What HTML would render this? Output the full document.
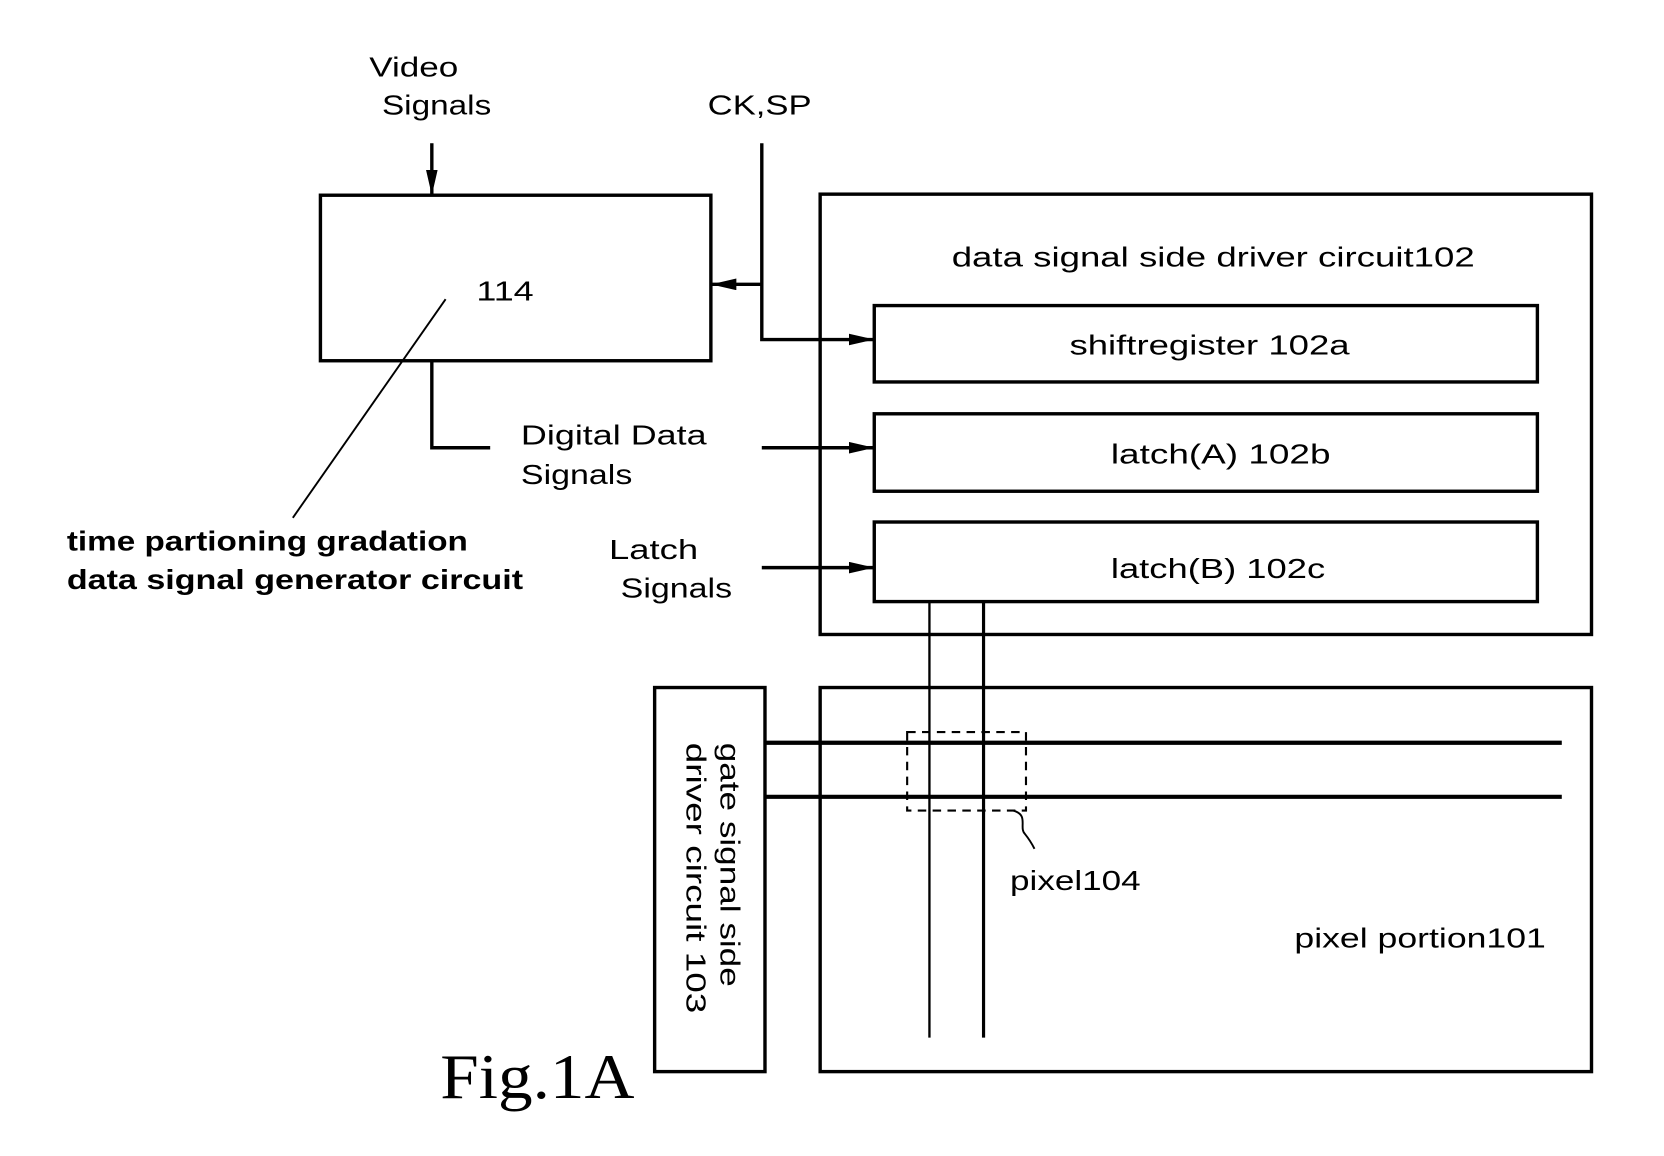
<!DOCTYPE html>
<html><head><style>
html,body{margin:0;padding:0;background:#fff;}
svg{display:block;}
text{font-family:"Liberation Sans",sans-serif;fill:#000;}
</style></head><body>
<svg width="1664" height="1156" viewBox="0 0 1664 1156" xmlns="http://www.w3.org/2000/svg">
<defs>
<marker id="ah2" markerWidth="24" markerHeight="11" refX="24" refY="5.5" orient="auto" markerUnits="userSpaceOnUse">
<path d="M0,0 L24,5.5 L0,11 Z" fill="#000"/>
</marker>
</defs>
<g transform="scale(1.061)">
<g stroke="#000" fill="none" stroke-width="3.2">
<rect x="302" y="184" width="368" height="156"/>
<line x1="407" y1="135" x2="407" y2="184" marker-end="url(#ah2)"/>
<line x1="420" y1="282" x2="276" y2="488" stroke-width="1.8"/>
<polyline points="407,340 407,422 462,422"/>
<polyline points="718,135 718,320 824,320" marker-end="url(#ah2)"/>
<line x1="718" y1="268" x2="670" y2="268" marker-end="url(#ah2)"/>
<rect x="773" y="183" width="727" height="415"/>
<rect x="824" y="288" width="625" height="72"/>
<rect x="824" y="390" width="625" height="73"/>
<rect x="824" y="492" width="625" height="75"/>
<line x1="718" y1="422" x2="824" y2="422" marker-end="url(#ah2)"/>
<line x1="718" y1="535" x2="824" y2="535" marker-end="url(#ah2)"/>
<line x1="876" y1="567" x2="876" y2="978" stroke-width="2.2"/>
<line x1="927" y1="567" x2="927" y2="978" stroke-width="3"/>
<rect x="617" y="648" width="104" height="362"/>
<rect x="773" y="648" width="727" height="362"/>
<line x1="721" y1="700" x2="1472" y2="700" stroke-width="4"/>
<line x1="721" y1="751" x2="1472" y2="751" stroke-width="4"/>
<rect x="855" y="690" width="112" height="74" stroke-width="2" stroke-dasharray="8,6"/>
<path d="M955,764 C970,768 960,780 966,786 C970,791 972,794 975,800" stroke-width="1.8"/>
</g>
<g font-size="26">
<text x="348" y="72" textLength="84" lengthAdjust="spacingAndGlyphs">Video</text>
<text x="360" y="108" textLength="103" lengthAdjust="spacingAndGlyphs">Signals</text>
<text x="667" y="108" textLength="98" lengthAdjust="spacingAndGlyphs">CK,SP</text>
<text x="449" y="283" textLength="54" lengthAdjust="spacingAndGlyphs">114</text>
<text x="491" y="419" textLength="175" lengthAdjust="spacingAndGlyphs">Digital Data</text>
<text x="491" y="456" textLength="105" lengthAdjust="spacingAndGlyphs">Signals</text>
<text x="63" y="519" font-weight="bold" textLength="378" lengthAdjust="spacingAndGlyphs">time partioning gradation</text>
<text x="63" y="555" font-weight="bold" textLength="430" lengthAdjust="spacingAndGlyphs">data signal generator circuit</text>
<text x="574" y="527" textLength="84" lengthAdjust="spacingAndGlyphs">Latch</text>
<text x="585" y="563" textLength="105" lengthAdjust="spacingAndGlyphs">Signals</text>
<text x="897" y="251" textLength="493" lengthAdjust="spacingAndGlyphs">data signal side driver circuit102</text>
<text x="1008" y="334" textLength="264" lengthAdjust="spacingAndGlyphs">shiftregister 102a</text>
<text x="1047" y="437" textLength="207" lengthAdjust="spacingAndGlyphs">latch(A) 102b</text>
<text x="1047" y="545" textLength="202" lengthAdjust="spacingAndGlyphs">latch(B) 102c</text>
<text x="952" y="839" textLength="123" lengthAdjust="spacingAndGlyphs">pixel104</text>
<text x="1220" y="893" textLength="237" lengthAdjust="spacingAndGlyphs">pixel portion101</text>
<g transform="translate(670,827) rotate(90)">
<text x="-127" y="-9" textLength="230" lengthAdjust="spacingAndGlyphs">gate signal side</text>
<text x="-127" y="23" textLength="255" lengthAdjust="spacingAndGlyphs">driver circuit 103</text>
</g>
</g>
<text x="415" y="1035" style="font-family:'Liberation Serif',serif;font-size:60px;" textLength="183" lengthAdjust="spacingAndGlyphs">Fig.1A</text>
</g>
</svg>
</body></html>
